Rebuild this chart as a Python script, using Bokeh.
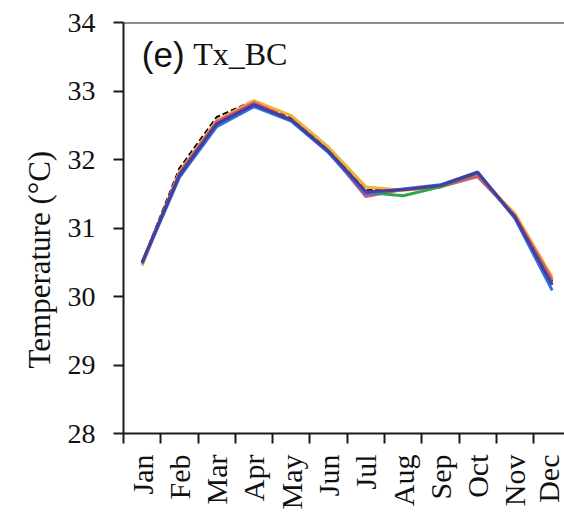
import math
from bokeh.plotting import figure
from bokeh.models import FixedTicker, Span, Label, Title
from bokeh.embed import file_html
from bokeh.resources import INLINE

months = ["Jan", "Feb", "Mar", "Apr", "May", "Jun", "Jul", "Aug", "Sep", "Oct", "Nov", "Dec"]
month_pos = list(range(1, 13))
y_ticks = [28, 29, 30, 31, 32, 33, 34]

obs    = [30.50, 31.87, 32.62, 32.86, 32.60, 32.15, 31.55, 31.57, 31.62, 31.80, 31.17, 30.22]
orange = [30.45, 31.82, 32.57, 32.86, 32.64, 32.18, 31.60, 31.55, 31.60, 31.77, 31.21, 30.28]
pink   = [30.50, 31.80, 32.55, 32.83, 32.58, 32.12, 31.46, 31.56, 31.60, 31.75, 31.18, 30.24]
green  = [30.49, 31.78, 32.52, 32.80, 32.57, 32.12, 31.52, 31.47, 31.60, 31.80, 31.15, 30.18]
blue   = [30.48, 31.74, 32.48, 32.77, 32.56, 32.10, 31.50, 31.57, 31.63, 31.82, 31.14, 30.09]
purple = [30.50, 31.77, 32.52, 32.80, 32.58, 32.12, 31.53, 31.56, 31.62, 31.81, 31.16, 30.17]

AX = "#1a1a1a"
SERIF = "Liberation Serif"
SANS = "Liberation Sans"

p = figure(width=564, height=512, x_range=(0.5, 12.33), y_range=(28, 34),
           output_backend="svg", toolbar_location=None,
           min_border_left=123, min_border_right=0, min_border_top=22, min_border_bottom=79)
p.outline_line_color = None
p.grid.visible = False
p.background_fill_color = "white"
p.border_fill_color = "white"

# x axis
xa = p.xaxis[0]
xa.ticker = FixedTicker(ticks=month_pos, minor_ticks=[m - 0.5 for m in month_pos])
xa.major_label_overrides = {m: lab for m, lab in zip(month_pos, months)}
xa.major_tick_out = 0
xa.major_tick_in = 0
xa.major_tick_line_color = None
xa.minor_tick_out = 10
xa.minor_tick_in = 0
xa.minor_tick_line_width = 2
xa.minor_tick_line_color = AX
xa.axis_line_width = 2
xa.axis_line_color = AX
xa.major_label_orientation = math.pi / 2
xa.major_label_standoff = 11
xa.major_label_text_font = SERIF
xa.major_label_text_font_size = "30px"
xa.major_label_text_color = "#111111"

# y axis
ya = p.yaxis[0]
ya.ticker = FixedTicker(ticks=y_ticks, minor_ticks=[])
ya.major_tick_out = 10
ya.major_tick_in = 0
ya.major_tick_line_width = 2
ya.major_tick_line_color = AX
ya.minor_tick_line_color = None
ya.axis_line_width = 2
ya.axis_line_color = AX
ya.major_label_standoff = 18
ya.major_label_text_font = SERIF
ya.major_label_text_font_size = "28px"
ya.major_label_text_color = "#111111"

# y-axis title, set a little below the axis middle as in the original
p.add_layout(Title(text="Temperature (°C)", align="left", offset=65, standoff=16,
                   text_font=SERIF, text_font_size="31px", text_font_style="normal",
                   text_color="#111111"), "left")

# top border
p.add_layout(Span(location=34, dimension="width", line_color=AX, line_width=2))

# series
p.line(month_pos, obs, line_color="black", line_width=2, line_dash="6 3")
p.line(month_pos, orange, line_color="#f2b233", line_width=3)
p.line(month_pos, pink, line_color="#e0527a", line_width=3)
p.line(month_pos, green, line_color="#2aa845", line_width=3)
p.line(month_pos, blue, line_color="#2f6fe0", line_width=3)
p.line(month_pos, purple, line_color="#4b3b9e", line_width=3)

# panel title
p.add_layout(Label(x=0.99, y=33.54, text="(e)", text_font=SANS,
                   text_font_size="35px", text_color="#111111", text_baseline="alphabetic"))
p.add_layout(Label(x=2.37, y=33.54, text="Tx_BC", text_font=SERIF,
                   text_font_size="32px", text_color="#111111", text_baseline="alphabetic"))

open("out.html", "w").write(file_html(p, INLINE))
